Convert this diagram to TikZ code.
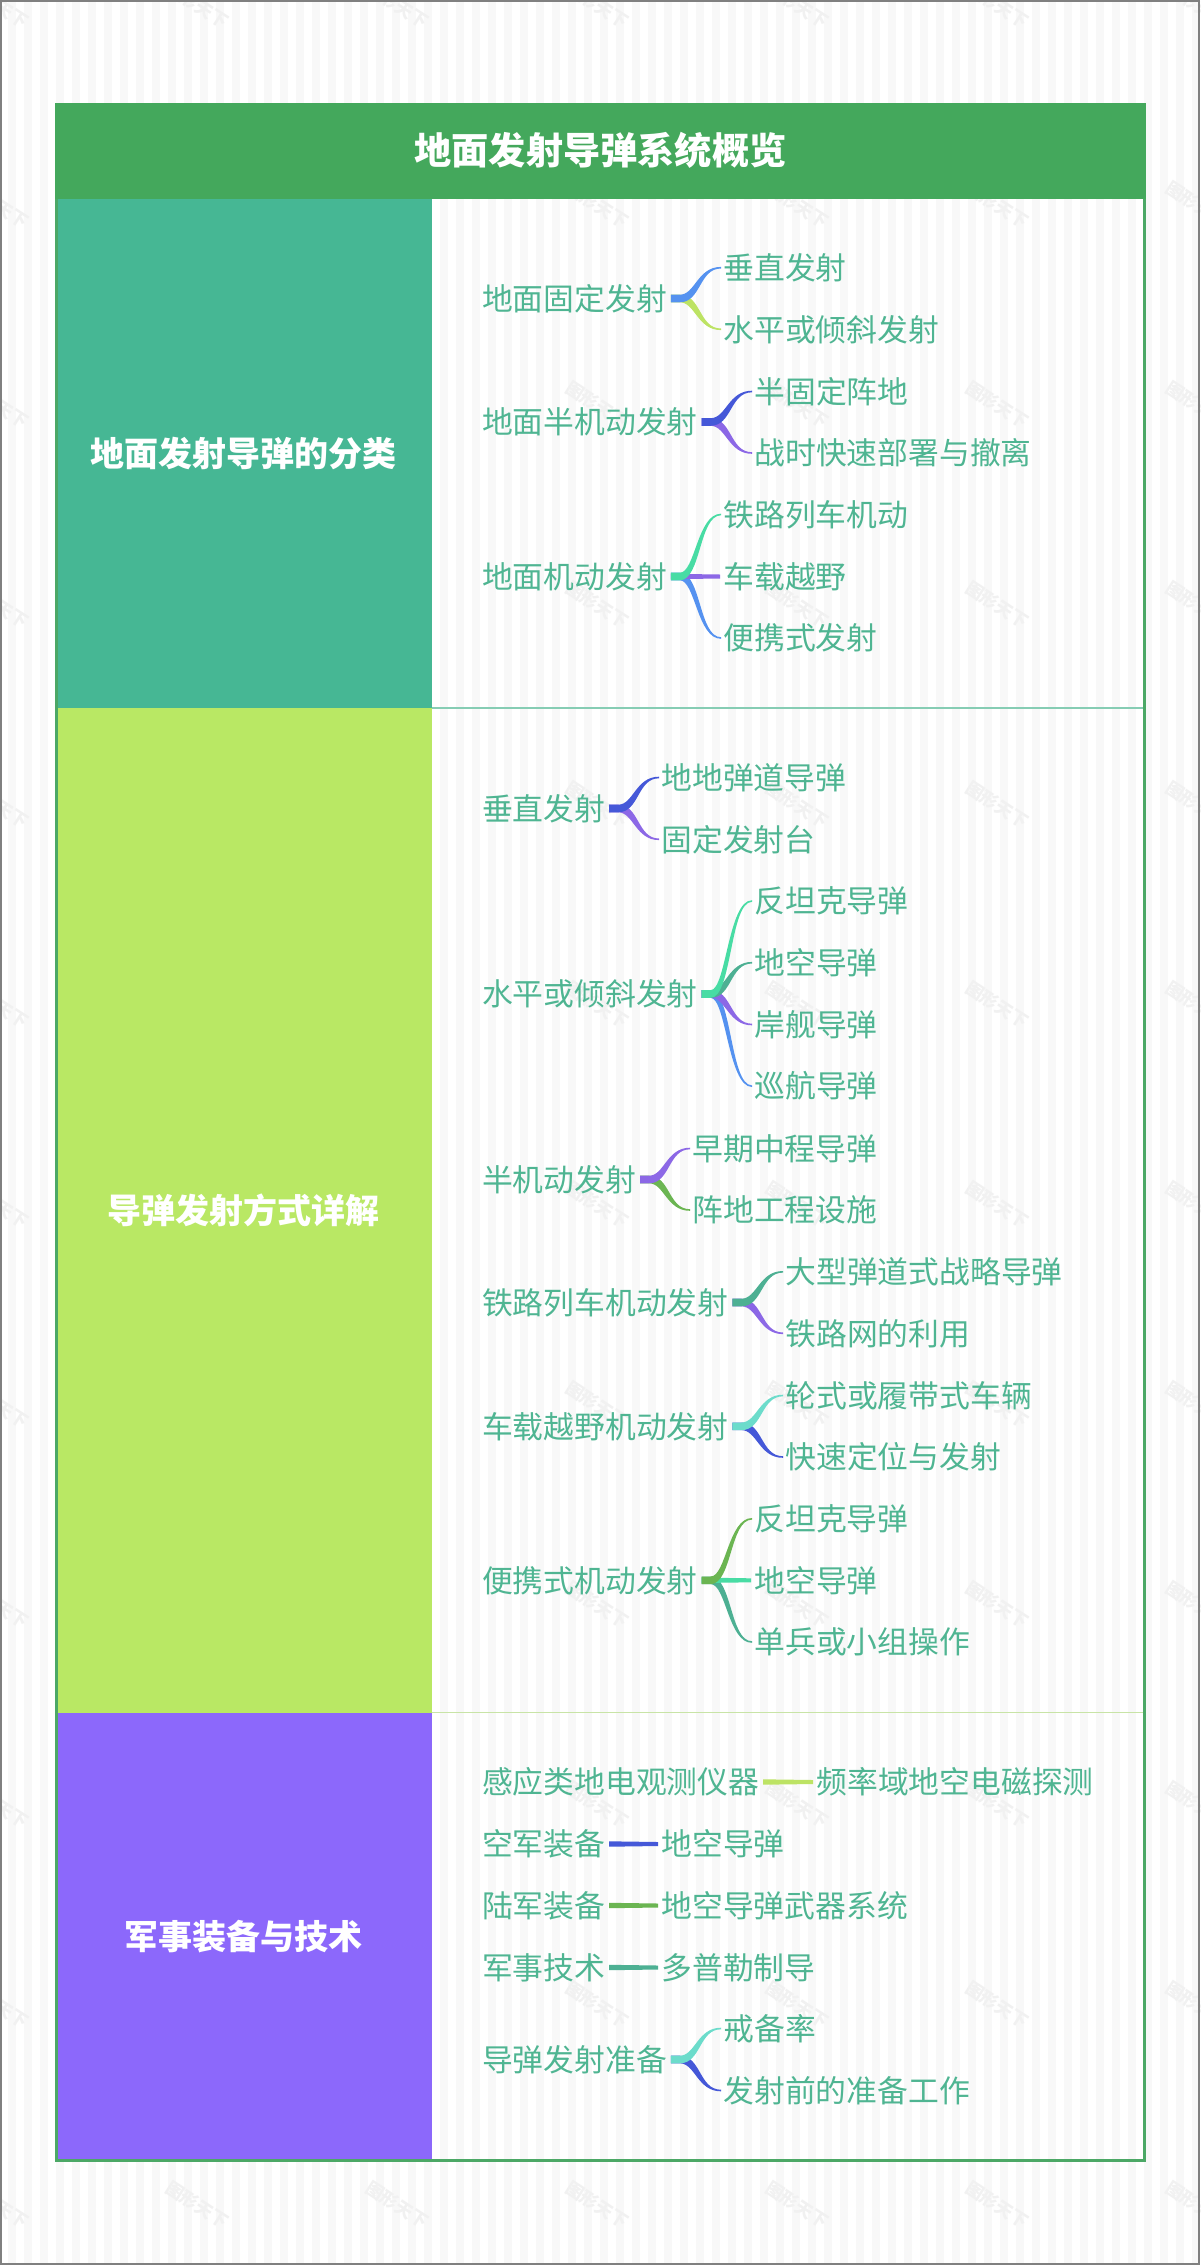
\documentclass[tikz,border=0pt]{standalone}
\usepackage{fontspec}
\usetikzlibrary{calc}
\newfontfamily\cjk{Noto Sans CJK SC}
\definecolor{cTitle}{HTML}{44A85C}
\definecolor{cFrame}{HTML}{4CA866}
\definecolor{cSecA}{HTML}{46B794}
\definecolor{cSecB}{HTML}{B9E864}
\definecolor{cSecC}{HTML}{8C68FB}
\definecolor{cText}{HTML}{4FB592}
\definecolor{cStripe}{HTML}{F8F8F8}
\definecolor{cMark}{HTML}{F1F1F1}
\definecolor{cBlue}{HTML}{5592F0}
\definecolor{cLime}{HTML}{BDE364}
\definecolor{cIndigo}{HTML}{4558D8}
\definecolor{cPurple}{HTML}{8C68E6}
\definecolor{cMint}{HTML}{48DCA4}
\definecolor{cTeal}{HTML}{4DB093}
\definecolor{cGreen}{HTML}{6BB552}
\definecolor{cCyan}{HTML}{6CDCCB}
\definecolor{cRuleA}{HTML}{86CDB4}
\definecolor{cRuleB}{HTML}{C8E4A6}
\tikzset{
  item/.style={anchor=west,inner sep=0pt,outer sep=0pt,text=cText,text height=27.1pt,text depth=3.7pt,
    font=\cjk\fontsize{30.8}{36}\selectfont},
  heading/.style={inner sep=0pt,text=white,font=\cjk\bfseries\fontsize{34}{40}\selectfont},
  pagetitle/.style={inner sep=0pt,text=white,font=\cjk\bfseries\fontsize{37.2}{44}\selectfont},
  wmark/.style={inner sep=0pt,text=cMark,rotate=-33,font=\cjk\bfseries\fontsize{17.5}{20}\selectfont},
}
% tapered curved branch: colour, parent, child
\newcommand{\branch}[3]{%
  \fill[#1] let \p1=(#2.east),\p2=(#3.west),\n1={ifthenelse(\y2>\y1,1,-1)} in
    (\x1+4pt,\y1+3.8pt) -- (\x1+13pt,\y1+3.8pt)
    .. controls ({0.5*\x1+0.5*\x2+3pt-\n1*3pt},\y1+3.8pt) and ({0.5*\x1+0.5*\x2+3pt-\n1*0.8pt},\y2+0.8pt) .. (\x2-2.5pt,\y2+0.8pt)
    -- (\x2-2.5pt,\y2-0.8pt)
    .. controls ({0.5*\x1+0.5*\x2+3pt+\n1*0.8pt},\y2-0.8pt) and ({0.5*\x1+0.5*\x2+3pt+\n1*3pt},\y1-3.8pt) .. (\x1+13pt,\y1-3.8pt)
    -- (\x1+4pt,\y1-3.8pt) -- cycle;}
% straight branch: colour, parent, child
\newcommand{\straightbranch}[3]{%
  \fill[#1] let \p1=(#2.east),\p2=(#3.west) in
    (\x1+4pt,\y2+2.7pt) -- (\x2-3.5pt,\y2+2pt) -- (\x2-3.5pt,\y2-2pt) -- (\x1+4pt,\y2-2.7pt) -- cycle;}
\begin{document}
\begin{tikzpicture}[x=1pt,y=-1pt]
\useasboundingbox (0,0) rectangle (1200,2265);
% page background
\fill[white] (0,0) rectangle (1200,2265);
\foreach \k in {0,...,74} \fill[cStripe] ({8+16*\k},0) rectangle ({16+16*\k},2265);
\foreach \i in {0,...,6} \foreach \j in {0,...,11}
  \node[wmark] (wm\i-\j) at ({-3+200*\i},{5+200*\j}) {图形天下};
\draw[color=black!50,line width=2pt] (1,1) rectangle (1199,2264);
% colour blocks
\fill[cSecA] (58,199) rectangle (431.5,708);
\fill[cSecB] (58,708) rectangle (431.5,1713);
\fill[cSecC] (58,1713) rectangle (431.5,2160);
\draw[color=cRuleA,line width=1.6pt] (431.5,708) -- (1143,708);
\draw[color=cRuleB,line width=1.8pt] (431.5,1712.5) -- (1143,1712.5);
\draw[color=cFrame,line width=3pt] (56.5,104.5) rectangle (1144.5,2160.5);
\fill[cTitle] (55,103) rectangle (1146,199);
\node[pagetitle] (title) at (600.5,150.5) {地面发射导弹系统概览};
\node[heading] (secA) at (243.5,453.5) {地面发射导弹的分类};
\node[heading] (secB) at (243.5,1210.5) {导弹发射方式详解};
\node[heading] (secC) at (243.5,1936.5) {军事装备与技术};
% section A
\node[item] (a1) at (482,298.5) {地面固定发射};
\node[item] (a11) at (723.5,267.7) {垂直发射};
\node[item] (a12) at (723.5,329.3) {水平或倾斜发射};
\node[item] (a2) at (482,422) {地面半机动发射};
\node[item] (a21) at (754.5,391.5) {半固定阵地};
\node[item] (a22) at (754.5,453) {战时快速部署与撤离};
\node[item] (a3) at (482,576.5) {地面机动发射};
\node[item] (a31) at (723.5,514.5) {铁路列车机动};
\node[item] (a32) at (723.5,576.5) {车载越野};
\node[item] (a33) at (723.5,638) {便携式发射};
\branch{cLime}{a1}{a12}\branch{cBlue}{a1}{a11}
\branch{cPurple}{a2}{a22}\branch{cIndigo}{a2}{a21}
\branch{cBlue}{a3}{a33}\straightbranch{cPurple}{a3}{a32}\branch{cMint}{a3}{a31}
% section B
\node[item] (b1) at (482,808.5) {垂直发射};
\node[item] (b11) at (661.5,777.5) {地地弹道导弹};
\node[item] (b12) at (661.5,839.3) {固定发射台};
\node[item] (b2) at (482,994) {水平或倾斜发射};
\node[item] (b21) at (754.5,901) {反坦克导弹};
\node[item] (b22) at (754.5,962.7) {地空导弹};
\node[item] (b23) at (754.5,1024.5) {岸舰导弹};
\node[item] (b24) at (754.5,1086.2) {巡航导弹};
\node[item] (b3) at (482,1179.5) {半机动发射};
\node[item] (b31) at (692.5,1148.5) {早期中程导弹};
\node[item] (b32) at (692.5,1210) {阵地工程设施};
\node[item] (b4) at (482,1302.5) {铁路列车机动发射};
\node[item] (b41) at (785.5,1271.8) {大型弹道式战略导弹};
\node[item] (b42) at (785.5,1333.3) {铁路网的利用};
\node[item] (b5) at (482,1426.3) {车载越野机动发射};
\node[item] (b51) at (785.5,1395.5) {轮式或履带式车辆};
\node[item] (b52) at (785.5,1457) {快速定位与发射};
\node[item] (b6) at (482,1580.3) {便携式机动发射};
\node[item] (b61) at (754.5,1518.8) {反坦克导弹};
\node[item] (b62) at (754.5,1580.3) {地空导弹};
\node[item] (b63) at (754.5,1642) {单兵或小组操作};
\branch{cPurple}{b1}{b12}\branch{cIndigo}{b1}{b11}
\branch{cBlue}{b2}{b24}\branch{cPurple}{b2}{b23}\branch{cTeal}{b2}{b22}\branch{cMint}{b2}{b21}
\branch{cGreen}{b3}{b32}\branch{cPurple}{b3}{b31}
\branch{cPurple}{b4}{b42}\branch{cTeal}{b4}{b41}
\branch{cIndigo}{b5}{b52}\branch{cCyan}{b5}{b51}
\branch{cTeal}{b6}{b63}\straightbranch{cMint}{b6}{b62}\branch{cGreen}{b6}{b61}
% section C
\node[item] (c1) at (482,1782) {感应类地电观测仪器};
\node[item] (c11) at (816.5,1782) {频率域地空电磁探测};
\node[item] (c2) at (482,1844) {空军装备};
\node[item] (c21) at (661.5,1844) {地空导弹};
\node[item] (c3) at (482,1905.5) {陆军装备};
\node[item] (c31) at (661.5,1905.5) {地空导弹武器系统};
\node[item] (c4) at (482,1967.5) {军事技术};
\node[item] (c41) at (661.5,1967.5) {多普勒制导};
\node[item] (c5) at (482,2059.5) {导弹发射准备};
\node[item] (c51) at (723.5,2028.5) {戒备率};
\node[item] (c52) at (723.5,2090.5) {发射前的准备工作};
\straightbranch{cLime}{c1}{c11}
\straightbranch{cIndigo}{c2}{c21}
\straightbranch{cGreen}{c3}{c31}
\straightbranch{cTeal}{c4}{c41}
\branch{cIndigo}{c5}{c52}\branch{cCyan}{c5}{c51}
\end{tikzpicture}
\end{document}
